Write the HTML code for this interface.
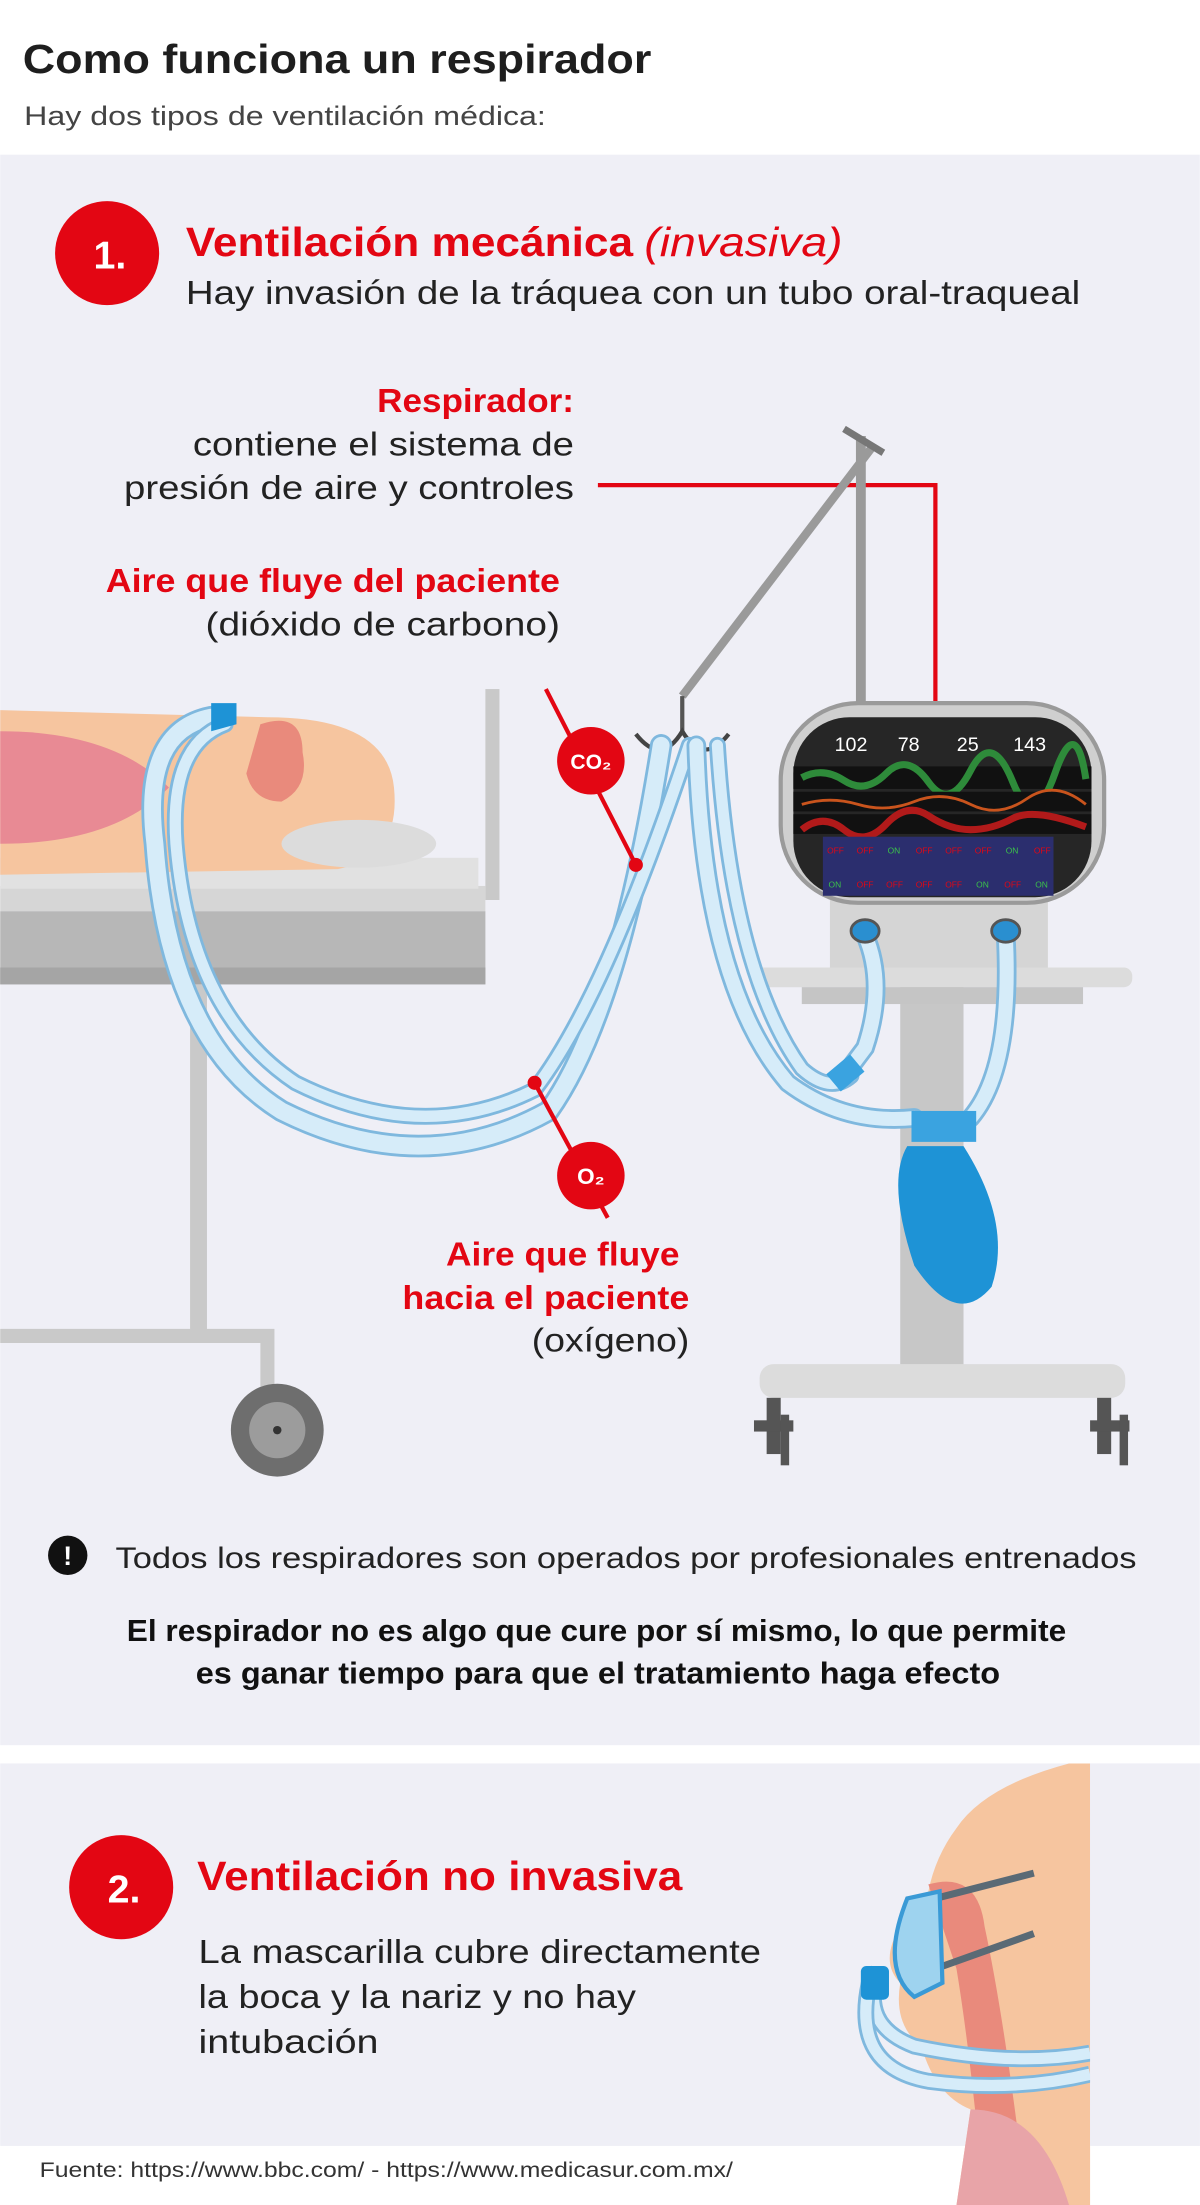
<!DOCTYPE html>
<html><head><meta charset="utf-8">
<style>
html,body{margin:0;padding:0;background:#fff;}
svg{display:block;}
text{font-family:"Liberation Sans",sans-serif;}
</style></head>
<body>
<svg width="1200" height="2205" viewBox="0 0 853 1568" xmlns="http://www.w3.org/2000/svg">
<rect x="0" y="0" width="853" height="1568" fill="#fff"/>
<rect x="0" y="110" width="853" height="1131" fill="#efeff6"/>
<rect x="0" y="1254" width="853" height="272" fill="#efeff6"/>

<!-- Header -->
<text x="16" y="52" font-size="29" font-weight="bold" fill="#1e1e1e" textLength="447" lengthAdjust="spacingAndGlyphs">Como funciona un respirador</text>
<text x="17" y="89" font-size="19" fill="#444" textLength="371" lengthAdjust="spacingAndGlyphs">Hay dos tipos de ventilación médica:</text>

<!-- Section 1 -->
<circle cx="76" cy="180" r="37" fill="#e30613"/>
<text x="78" y="191" font-size="28" font-weight="bold" fill="#fff" text-anchor="middle">1.</text>
<text x="132" y="182" font-size="29" font-weight="bold" fill="#e30613" textLength="318" lengthAdjust="spacingAndGlyphs">Ventilación mecánica</text>
<text x="458" y="182" font-size="29" font-style="italic" fill="#e30613" textLength="141" lengthAdjust="spacingAndGlyphs">(invasiva)</text>
<text x="132" y="216" font-size="24" fill="#222" textLength="636" lengthAdjust="spacingAndGlyphs">Hay invasión de la tráquea con un tubo oral-traqueal</text>

<text x="408" y="293" font-size="24" font-weight="bold" fill="#e30613" text-anchor="end" textLength="140" lengthAdjust="spacingAndGlyphs">Respirador:</text>
<text x="408" y="324" font-size="24" fill="#222" text-anchor="end" textLength="271" lengthAdjust="spacingAndGlyphs">contiene el sistema de</text>
<text x="408" y="355" font-size="24" fill="#222" text-anchor="end" textLength="320" lengthAdjust="spacingAndGlyphs">presión de aire y controles</text>
<polyline points="425,345 665,345 665,517" fill="none" stroke="#e30613" stroke-width="3"/>
<circle cx="665" cy="517" r="5" fill="#e30613"/>

<text x="398" y="421" font-size="24" font-weight="bold" fill="#e30613" text-anchor="end" textLength="323" lengthAdjust="spacingAndGlyphs">Aire que fluye del paciente</text>
<text x="398" y="452" font-size="24" fill="#222" text-anchor="end" textLength="252" lengthAdjust="spacingAndGlyphs">(dióxido de carbono)</text>

<!-- Bed -->
<rect x="345" y="490" width="10" height="150" fill="#c9c9c9"/>
<rect x="0" y="630" width="345" height="18" fill="#d6d6d6"/>
<rect x="0" y="648" width="345" height="52" fill="#b7b7b7"/>
<rect x="0" y="688" width="345" height="12" fill="#a5a5a5"/>
<rect x="135" y="700" width="12" height="250" fill="#c9c9c9"/>
<path d="M0 950 H190 V990" fill="none" stroke="#c9c9c9" stroke-width="10"/>
<circle cx="197" cy="1017" r="33" fill="#6e6e6e"/>
<circle cx="197" cy="1017" r="20" fill="#9c9c9c"/>
<circle cx="197" cy="1017" r="3" fill="#333"/>
<rect x="0" y="610" width="340" height="22" fill="#e1e1e1"/>
<path d="M0 505 L190 510 Q275 510 280 560 Q285 610 240 618 L0 622 Z" fill="#f6c59f"/>
<path d="M0 520 Q80 520 120 560 Q80 600 0 600 Z" fill="#e88a94"/>
<path d="M185 515 Q215 505 215 535 Q220 560 200 570 Q180 570 175 550 Z" fill="#e98a7c"/>
<ellipse cx="255" cy="600" rx="55" ry="17" fill="#dcdcdc"/>

<!-- Stand pole -->
<line x1="612" y1="310" x2="612" y2="520" stroke="#9a9a9a" stroke-width="7"/>
<line x1="620" y1="318" x2="485" y2="495" stroke="#9a9a9a" stroke-width="6"/>
<line x1="600" y1="305" x2="628" y2="322" stroke="#777" stroke-width="5"/>
<path d="M485 495 V520" stroke="#555" stroke-width="3"/>
<path d="M452 522 Q470 545 485 520 Q500 545 518 522" fill="none" stroke="#444" stroke-width="3"/>

<!-- Ventilator stand -->
<rect x="640" y="640" width="45" height="335" fill="#c7c7c7"/>
<rect x="590" y="640" width="155" height="50" fill="#d5d5d5"/>
<rect x="535" y="688" width="270" height="14" rx="6" fill="#dcdcdc"/>
<rect x="570" y="702" width="200" height="12" fill="#c5c5c5"/>
<rect x="540" y="970" width="260" height="24" rx="10" fill="#dcdcdc"/>
<rect x="545" y="994" width="10" height="40" fill="#555"/><rect x="536" y="1010" width="28" height="8" fill="#555"/><rect x="555" y="1006" width="6" height="36" fill="#555"/>
<rect x="780" y="994" width="10" height="40" fill="#555"/><rect x="775" y="1010" width="28" height="8" fill="#555"/><rect x="796" y="1006" width="6" height="36" fill="#555"/>

<!-- Monitor -->
<rect x="555" y="500" width="230" height="142" rx="55" fill="#cfcfcf" stroke="#9a9a9a" stroke-width="3"/>
<rect x="564" y="510" width="212" height="128" rx="40" fill="#262626"/>
<g font-size="14" fill="#fff" text-anchor="middle">
<text x="605" y="534">102</text><text x="646" y="534">78</text><text x="688" y="534">25</text><text x="732" y="534">143</text>
</g>
<rect x="564" y="545" width="212" height="16" fill="#111"/>
<path d="M570 553 Q585 545 600 555 T630 550 T660 556 T690 548 T720 556 T750 550 T772 554" fill="none" stroke="#2e8b3a" stroke-width="5"/>
<rect x="564" y="563" width="212" height="14" fill="#111"/>
<path d="M570 572 Q590 566 610 572 T650 570 T690 572 T730 568 T772 572" fill="none" stroke="#c9541d" stroke-width="2"/>
<rect x="564" y="579" width="212" height="14" fill="#111"/>
<path d="M570 590 Q585 578 600 590 T630 586 T660 580 T690 590 T720 582 T772 588" fill="none" stroke="#b11a1a" stroke-width="5"/>
<rect x="585" y="595" width="164" height="42" fill="#2b2e6e"/>
<g font-size="6" fill="#e30613">
<text x="588" y="607">OFF</text><text x="609" y="607">OFF</text><text x="651" y="607">OFF</text><text x="672" y="607">OFF</text><text x="693" y="607">OFF</text><text x="735" y="607">OFF</text>
<text x="609" y="631">OFF</text><text x="630" y="631">OFF</text><text x="651" y="631">OFF</text><text x="672" y="631">OFF</text><text x="714" y="631">OFF</text>
</g>
<g font-size="6" fill="#3bc24a">
<text x="631" y="607">ON</text><text x="715" y="607">ON</text><text x="589" y="631">ON</text><text x="694" y="631">ON</text><text x="736" y="631">ON</text>
</g>

<!-- Tubes -->
<g fill="none" stroke-linecap="round">
<path d="M150 510 Q100 520 110 600 Q120 740 200 790 Q300 840 390 790 Q440 720 470 530" stroke="#7fb8de" stroke-width="16"/>
<path d="M150 510 Q100 520 110 600 Q120 740 200 790 Q300 840 390 790 Q440 720 470 530" stroke="#d6ecf9" stroke-width="12"/>
<path d="M160 515 Q120 530 125 600 Q135 720 210 770 Q300 815 380 775 Q430 710 490 530" stroke="#7fb8de" stroke-width="12"/>
<path d="M160 515 Q120 530 125 600 Q135 720 210 770 Q300 815 380 775 Q430 710 490 530" stroke="#d6ecf9" stroke-width="8"/>
<path d="M495 530 Q500 700 560 770 Q600 800 650 795" stroke="#7fb8de" stroke-width="14"/>
<path d="M495 530 Q500 700 560 770 Q600 800 650 795" stroke="#d6ecf9" stroke-width="10"/>
<path d="M510 530 Q520 690 570 760 Q590 778 605 765" stroke="#7fb8de" stroke-width="12"/>
<path d="M510 530 Q520 690 570 760 Q590 778 605 765" stroke="#d6ecf9" stroke-width="8"/>
<path d="M615 665 Q630 700 615 745 L600 765" stroke="#7fb8de" stroke-width="14"/>
<path d="M615 665 Q630 700 615 745 L600 765" stroke="#d6ecf9" stroke-width="10"/>
<path d="M715 665 Q720 760 690 795" stroke="#7fb8de" stroke-width="14"/>
<path d="M715 665 Q720 760 690 795" stroke="#d6ecf9" stroke-width="10"/>
</g>
<ellipse cx="615" cy="662" rx="10" ry="8" fill="#2a8fd0" stroke="#555" stroke-width="2"/>
<ellipse cx="715" cy="662" rx="10" ry="8" fill="#2a8fd0" stroke="#555" stroke-width="2"/>
<rect x="590" y="755" width="22" height="16" fill="#3aa3e0" transform="rotate(-40 601 763)"/>
<rect x="648" y="790" width="46" height="22" fill="#3aa3e0"/>
<path d="M645 815 Q630 840 650 900 Q680 945 705 915 Q720 870 685 815 Z" fill="#1e93d6"/>
<path d="M150 500 L168 500 L168 515 L150 520 Z" fill="#1e93d6"/>

<!-- CO2 / O2 markers -->
<line x1="388" y1="490" x2="452" y2="615" stroke="#e30613" stroke-width="3"/>
<circle cx="452" cy="615" r="5" fill="#e30613"/>
<circle cx="420" cy="541" r="24" fill="#e30613"/>
<text x="420" y="547" font-size="15" font-weight="bold" fill="#fff" text-anchor="middle">CO₂</text>
<line x1="380" y1="770" x2="432" y2="866" stroke="#e30613" stroke-width="3"/>
<circle cx="380" cy="770" r="5" fill="#e30613"/>
<circle cx="420" cy="836" r="24" fill="#e30613"/>
<text x="420" y="842" font-size="16" font-weight="bold" fill="#fff" text-anchor="middle">O₂</text>

<text x="483" y="900" font-size="24" font-weight="bold" fill="#e30613" text-anchor="end" textLength="166" lengthAdjust="spacingAndGlyphs">Aire que fluye</text>
<text x="490" y="931" font-size="24" font-weight="bold" fill="#e30613" text-anchor="end" textLength="204" lengthAdjust="spacingAndGlyphs">hacia el paciente</text>
<text x="490" y="961" font-size="24" fill="#222" text-anchor="end" textLength="112" lengthAdjust="spacingAndGlyphs">(oxígeno)</text>

<!-- Note -->
<circle cx="48" cy="1106" r="14" fill="#111"/>
<text x="48" y="1113" font-size="19" font-weight="bold" fill="#fff" text-anchor="middle">!</text>
<text x="82" y="1115" font-size="21" fill="#222" textLength="726" lengthAdjust="spacingAndGlyphs">Todos los respiradores son operados por profesionales entrenados</text>
<text x="424" y="1167" font-size="22" font-weight="bold" fill="#111" text-anchor="middle" textLength="668" lengthAdjust="spacingAndGlyphs">El respirador no es algo que cure por sí mismo, lo que permite</text>
<text x="425" y="1197" font-size="22" font-weight="bold" fill="#111" text-anchor="middle" textLength="572" lengthAdjust="spacingAndGlyphs">es ganar tiempo para que el tratamiento haga efecto</text>

<!-- Section 2 -->
<circle cx="86" cy="1342" r="37" fill="#e30613"/>
<text x="88" y="1353" font-size="28" font-weight="bold" fill="#fff" text-anchor="middle">2.</text>
<text x="140" y="1344" font-size="29" font-weight="bold" fill="#e30613" textLength="345" lengthAdjust="spacingAndGlyphs">Ventilación no invasiva</text>
<text x="141" y="1396" font-size="24" fill="#222" textLength="400" lengthAdjust="spacingAndGlyphs">La mascarilla cubre directamente</text>
<text x="141" y="1428" font-size="24" fill="#222" textLength="311" lengthAdjust="spacingAndGlyphs">la boca y la nariz y no hay</text>
<text x="141" y="1460" font-size="24" fill="#222" textLength="128" lengthAdjust="spacingAndGlyphs">intubación</text>

<!-- Face illustration -->
<path d="M775 1254 L760 1254 Q700 1270 680 1300 Q665 1320 660 1345 L640 1370 Q625 1395 640 1410 Q635 1440 655 1455 Q665 1490 690 1500 L680 1568 L775 1568 Z" fill="#f6c59f"/>
<path d="M660 1340 Q695 1330 700 1370 Q715 1440 730 1568 L700 1568 Q690 1460 680 1400 Z" fill="#e98a7c"/>
<path d="M690 1500 Q740 1500 760 1568 L680 1568 Z" fill="#e8a4a8"/>
<path d="M665 1350 L735 1332 M665 1400 L735 1375" stroke="#5a6a75" stroke-width="5" fill="none"/>
<path d="M645 1350 L668 1345 L670 1410 L650 1420 Q625 1400 645 1350 Z" fill="#9ed3ef" stroke="#3a9ad6" stroke-width="3"/>
<path d="M625 1400 Q610 1440 650 1455 Q720 1470 775 1460" fill="none" stroke="#7fb8de" stroke-width="12"/>
<path d="M625 1400 Q610 1440 650 1455 Q720 1470 775 1460" fill="none" stroke="#d6ecf9" stroke-width="8"/>
<path d="M618 1410 Q605 1470 660 1480 Q720 1488 775 1475" fill="none" stroke="#7fb8de" stroke-width="12"/>
<path d="M618 1410 Q605 1470 660 1480 Q720 1488 775 1475" fill="none" stroke="#d6ecf9" stroke-width="8"/>
<rect x="612" y="1398" width="20" height="24" rx="4" fill="#1e93d6"/>
<rect x="775" y="1254" width="78" height="272" fill="#efeff6"/>

<!-- Footer -->
<text x="28" y="1548" font-size="15" fill="#333" textLength="493" lengthAdjust="spacingAndGlyphs">Fuente:  https://www.bbc.com/ - https://www.medicasur.com.mx/</text>
</svg>
</body></html>
